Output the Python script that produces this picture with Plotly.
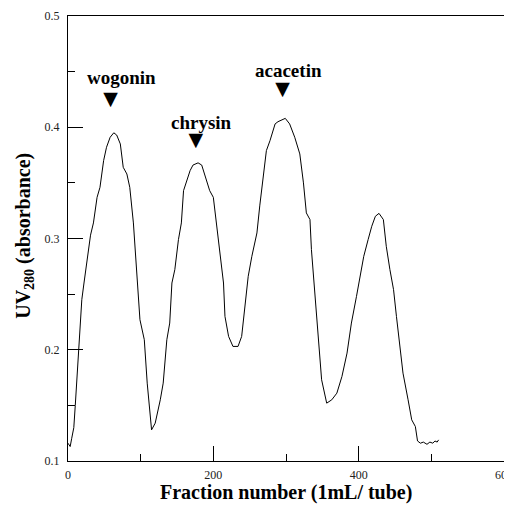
import plotly.graph_objects as go

fraction = [0, 3, 5, 8, 10, 13, 16, 19, 22, 26, 31, 35, 40, 44, 49, 53, 58, 63, 67, 72,
            76, 81, 85, 90, 95, 99, 105, 109, 115, 120, 127, 131, 136, 140, 143, 147,
            152, 156, 159, 163, 168, 172, 179, 184, 189, 195, 200, 205, 211, 214, 216,
            221, 227, 234, 239, 244, 248, 253, 260, 264, 269, 273, 278, 285, 289, 299,
            305, 312, 319, 324, 328, 333, 335, 340, 344, 349, 356, 363, 370, 377, 384,
            390, 397, 403, 407, 413, 418, 423, 428, 434, 438, 443, 448, 452, 457, 461,
            468, 473, 478, 481, 485, 489, 494, 498, 502, 505, 508, 510]
absorbance = [0.116, 0.113, 0.120, 0.130, 0.150, 0.185, 0.215, 0.245, 0.260, 0.278,
              0.303, 0.314, 0.337, 0.346, 0.370, 0.382, 0.391, 0.395, 0.393, 0.385,
              0.364, 0.358, 0.346, 0.314, 0.266, 0.227, 0.209, 0.170, 0.128, 0.134,
              0.155, 0.170, 0.209, 0.224, 0.260, 0.272, 0.299, 0.314, 0.343, 0.352,
              0.361, 0.366, 0.368, 0.366, 0.355, 0.343, 0.337, 0.308, 0.275, 0.260,
              0.230, 0.212, 0.203, 0.203, 0.212, 0.239, 0.266, 0.284, 0.305, 0.330,
              0.360, 0.379, 0.388, 0.403, 0.405, 0.408, 0.403, 0.391, 0.376, 0.350,
              0.323, 0.317, 0.290, 0.248, 0.209, 0.173, 0.152, 0.155, 0.161, 0.176,
              0.197, 0.224, 0.248, 0.268, 0.284, 0.299, 0.311, 0.320, 0.3226, 0.317,
              0.293, 0.272, 0.254, 0.230, 0.203, 0.179, 0.155, 0.137, 0.131, 0.118,
              0.116, 0.117, 0.115, 0.117, 0.116, 0.118, 0.117, 0.119]

peak_names = ["wogonin", "chrysin", "acacetin"]
label_x = [73.6, 183.5, 303.0]
label_y = [0.4448, 0.4045, 0.4511]
marker_x = [58.5, 175.8, 295.2]
marker_y = [0.424, 0.3874, 0.4332]

x_tickvals = [0, 200, 400, 600]
y_tickvals = [0.1, 0.2, 0.3, 0.4, 0.5]

serif = "Liberation Serif, Times New Roman, serif"

fig = go.Figure()
fig.add_trace(go.Scatter(x=fraction, y=absorbance, mode="lines",
                         line=dict(color="black", width=1), showlegend=False,
                         hoverinfo="skip"))
fig.add_trace(go.Scatter(x=marker_x, y=marker_y, mode="text",
                         text=["▼"] * len(marker_x), textposition="middle center",
                         textfont=dict(family="DejaVu Sans", size=19, color="black"),
                         showlegend=False, hoverinfo="skip"))

for name, lx, ly in zip(peak_names, label_x, label_y):
    fig.add_annotation(x=lx, y=ly, xref="x", yref="y", text=f"<b>{name}</b>",
                       showarrow=False, xanchor="center", yanchor="middle",
                       font=dict(family=serif, size=19, color="black"))

fig.add_annotation(x=0.5, y=-0.0707, xref="paper", yref="paper",
                   text="<b>Fraction number (1mL/ tube)</b>", showarrow=False,
                   xanchor="center", yanchor="middle",
                   font=dict(family=serif, size=20, color="black"))
fig.add_annotation(x=-0.1, y=0.507, xref="paper", yref="paper",
                   text="<b>UV<sub>280</sub> (absorbance)</b>", showarrow=False,
                   textangle=-90, xanchor="center", yanchor="middle",
                   font=dict(family=serif, size=20, color="black"))

axis_common = dict(showline=True, linecolor="black", linewidth=1, mirror=True,
                   ticks="inside", ticklen=15, tickwidth=1, tickcolor="black",
                   showgrid=False, zeroline=False, automargin=False,
                   ticklabeloverflow="allow",
                   tickfont=dict(family=serif, size=12, color="#222"))

fig.update_xaxes(range=[0, 600], tickvals=x_tickvals,
                 ticktext=[str(v) for v in x_tickvals],
                 minor=dict(dtick=100, tick0=0, ticks="inside", ticklen=7,
                            tickcolor="black", tickwidth=1, showgrid=False),
                 ticklabelstandoff=3, **axis_common)
fig.update_yaxes(range=[0.1, 0.5], tickvals=y_tickvals,
                 ticktext=[f"{v:.1f}" for v in y_tickvals],
                 minor=dict(dtick=0.05, tick0=0.1, ticks="inside", ticklen=7,
                            tickcolor="black", tickwidth=1, showgrid=False),
                 ticklabelstandoff=5, **axis_common)

fig.update_layout(width=504, height=498, margin=dict(l=60, r=8, t=8, b=45),
                  paper_bgcolor="white", plot_bgcolor="white")

fig.write_html("out.html")
